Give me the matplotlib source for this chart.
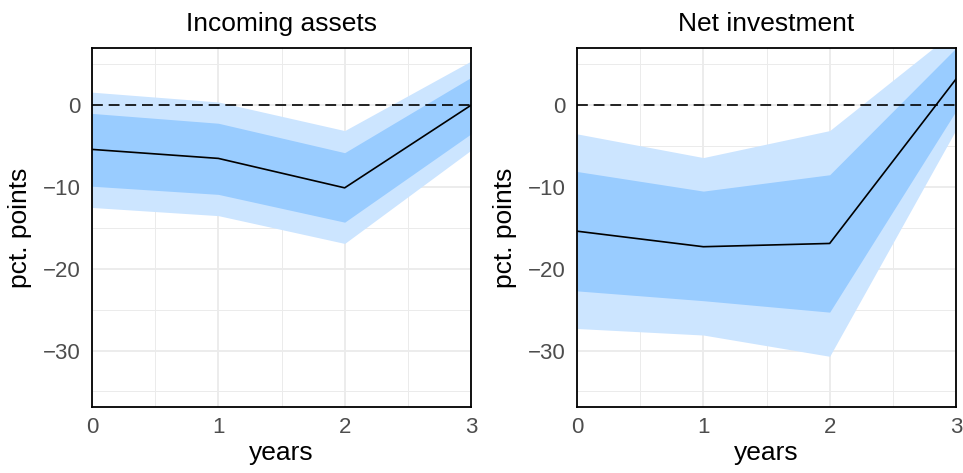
import numpy as np
import matplotlib
matplotlib.use("Agg")
import matplotlib.pyplot as plt
from matplotlib.ticker import MultipleLocator

plt.rcParams['font.family'] = ['Liberation Sans', 'DejaVu Sans']

years = [0, 1, 2, 3]
titles = ["Incoming assets", "Net investment"]

# incoming assets
ia_mid = [-5.4, -6.5, -10.1, 0.0]
ia_lo90 = [-12.5, -13.5, -16.9, -5.5]
ia_lo68 = [-9.9, -10.9, -14.3, -3.5]
ia_hi68 = [-1.0, -2.2, -5.8, 3.4]
ia_hi90 = [1.6, 0.4, -3.1, 5.4]

# net investment
ni_mid = [-15.4, -17.3, -16.9, 3.2]
ni_lo90 = [-27.3, -28.1, -30.7, -3.0]
ni_lo68 = [-22.7, -23.9, -25.3, -0.7]
ni_hi68 = [-8.1, -10.5, -8.5, 7.0]
ni_hi90 = [-3.5, -6.4, -3.1, 9.2]

panels = [
    (ia_mid, ia_lo90, ia_lo68, ia_hi68, ia_hi90),
    (ni_mid, ni_lo90, ni_lo68, ni_hi68, ni_hi90),
]

fig = plt.figure(figsize=(9.63, 4.73), dpi=100)
lefts = [92 / 963, 577 / 963]
w = 379 / 963
b = 1 - 407 / 473
h = 359 / 473

for i in range(2):
    mid, lo90, lo68, hi68, hi90 = panels[i]
    ax = fig.add_axes([lefts[i], b, w, h])
    ax.fill_between(years, lo90, hi90, color="#cce5ff", lw=0, zorder=2)
    ax.fill_between(years, lo68, hi68, color="#99ccff", lw=0, zorder=3)
    ax.axhline(0, color="black", ls=(0, (6.5, 3.5)), lw=1.2, zorder=4)
    ax.plot(years, mid, color="black", lw=1.2, zorder=5)
    ax.set_xlim(0, 3)
    ax.set_ylim(-36.9, 7.0)
    ax.xaxis.set_major_locator(MultipleLocator(1))
    ax.xaxis.set_minor_locator(MultipleLocator(0.5))
    ax.yaxis.set_major_locator(MultipleLocator(10))
    ax.yaxis.set_minor_locator(MultipleLocator(5))
    ax.grid(which="major", color="#ebebeb", lw=1.3, zorder=0)
    ax.grid(which="minor", color="#ebebeb", lw=0.7, zorder=0)
    ax.set_axisbelow(True)
    ax.tick_params(which="both", length=0, labelsize=16, labelcolor="#4d4d4d")
    ax.tick_params(axis="y", pad=8)
    ax.tick_params(axis="x", pad=7)
    for s in ax.spines.values():
        s.set_linewidth(1.3)
        s.set_color("black")
        s.set_zorder(6)
    ax.set_title(titles[i], fontsize=19, pad=12)
    ax.set_xlabel("years", fontsize=19, labelpad=2)
    ax.set_ylabel("pct. points", fontsize=19, labelpad=8)
    ax.set_yticks([-30, -20, -10, 0])
    ax.set_yticklabels(["\u221230", "\u221220", "\u221210", "0"])

fig.savefig("out.png", dpi=100)
